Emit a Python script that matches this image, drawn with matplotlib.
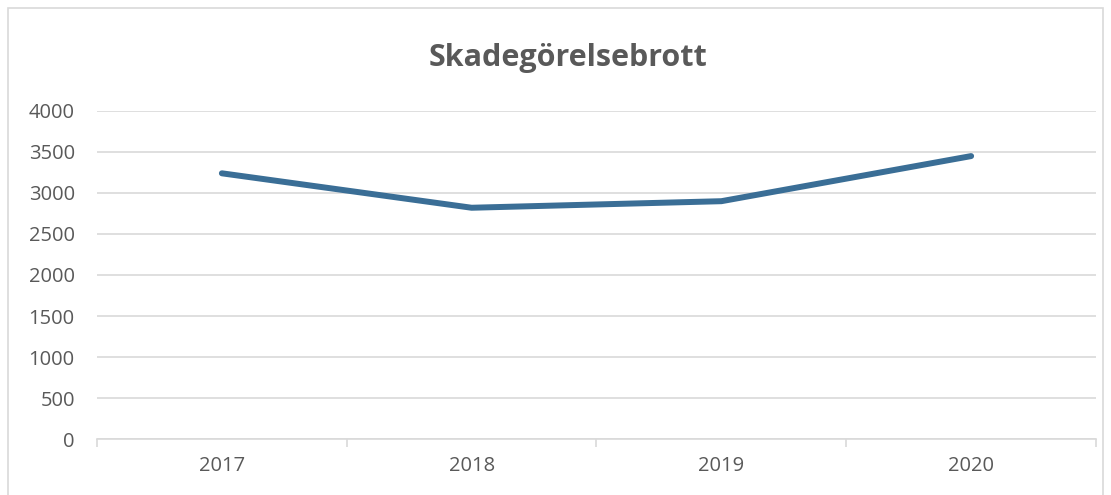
import matplotlib.pyplot as plt
from matplotlib.patches import Rectangle

years = ['2017', '2018', '2019', '2020']
values = [3240, 2820, 2900, 3450]
yticks = [0, 500, 1000, 1500, 2000, 2500, 3000, 3500, 4000]

plt.rcParams['font.family'] = ['Open Sans', 'DejaVu Sans']

fig = plt.figure(figsize=(11.11, 4.95), dpi=100)
ax = fig.add_axes([0.0873, 0.1131, 0.8992, 0.6627])

x = list(range(len(years)))
ax.plot(x, values, color='#3A6E96', linewidth=4.3, solid_capstyle='round', solid_joinstyle='round', zorder=3)

ax.set_xlim(-0.5, len(years) - 0.5)
ax.set_ylim(0, 4000)
ax.set_yticks(yticks)
ax.set_yticklabels([str(v) for v in yticks], color='#595959', fontsize=14.5)
ax.grid(axis='y', color='#D9D9D9', linewidth=1.2)
ax.set_axisbelow(True)

ax.set_xticks(x)
ax.set_xticklabels(years, color='#595959', fontsize=14.5)
ax.set_xticks([i - 0.5 for i in range(len(years) + 1)], minor=True)
ax.tick_params(axis='x', which='major', length=0, pad=12)
ax.tick_params(axis='x', which='minor', length=6, color='#D9D9D9', width=1.2)
ax.tick_params(axis='y', length=0, pad=16)

for s in ['top', 'right', 'left']:
    ax.spines[s].set_visible(False)
ax.spines['bottom'].set_color('#D9D9D9')
ax.spines['bottom'].set_linewidth(1.2)

fig.text(0.511, 0.883, 'Skadegörelsebrott', ha='center', va='center',
         fontsize=22, fontweight='bold', color='#595959')

fig.patches.append(Rectangle((8 / 1111, -0.1), 1095 / 1111, 1.1 - 8 / 495,
                             transform=fig.transFigure, fill=False,
                             edgecolor='#D9D9D9', linewidth=1.2))

fig.savefig('out.png', dpi=100)
